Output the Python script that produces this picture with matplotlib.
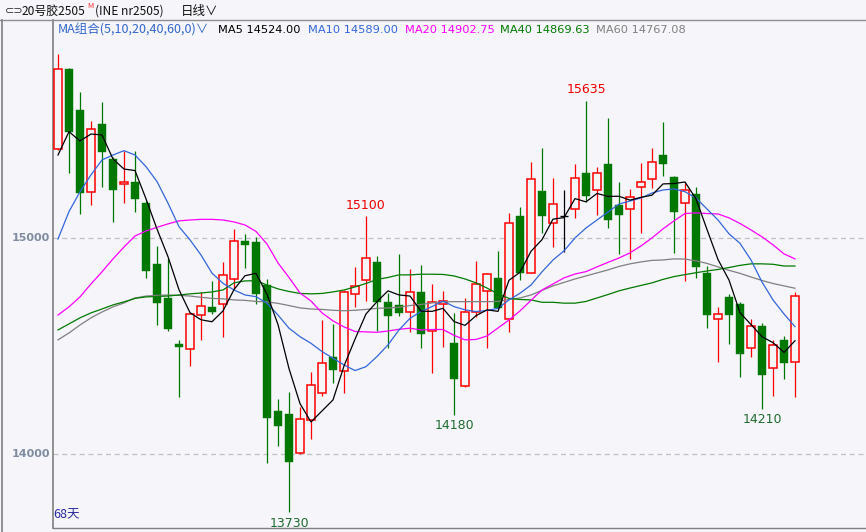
import matplotlib
matplotlib.use("Agg")
import matplotlib.pyplot as plt
import numpy as np

plt.rcParams['font.family'] = ['Noto Sans CJK SC', 'DejaVu Sans']

# daily candles, 68 bars
opens = [15411, 15782, 15593, 15212, 15528, 15366, 15249, 15259, 15161, 14880,
         14724, 14511, 14485, 14645, 14681, 14693, 14809, 14986, 14981, 14782,
         14199, 14185, 14003, 14157, 14281, 14449, 14384, 14739, 14804, 14889,
         14704, 14690, 14659, 14750, 14568, 14693, 14514, 14313, 14659, 14755,
         14815, 14624, 15102, 14839, 15218, 15068, 15102, 15133, 15301, 15221,
         15343, 15153, 15133, 15235, 15272, 15383, 15282, 15161, 15204, 14837,
         14624, 14727, 14694, 14489, 14593, 14400, 14528, 14425]
highs = [15852, 15785, 15675, 15540, 15630, 15375, 15403, 15403, 15171, 14963,
         14906, 14528, 14653, 14749, 14801, 14889, 15040, 15017, 15005, 14810,
         14255, 14286, 14216, 14380, 14620, 14602, 14759, 14864, 15100, 14917,
         14744, 14926, 14856, 14875, 14787, 14752, 14651, 14721, 14894, 14839,
         14940, 15114, 15142, 15353, 15415, 15276, 15222, 15342, 15635, 15327,
         15554, 15261, 15227, 15346, 15415, 15537, 15288, 15253, 15238, 14870,
         14681, 14742, 14704, 14624, 14605, 14528, 14546, 14750]
lows = [15405, 15301, 15110, 15153, 15238, 15074, 15161, 15118, 14813, 14597,
        14571, 14265, 14409, 14528, 14648, 14543, 14762, 14862, 14693, 13957,
        14037, 13730, 14000, 14071, 14270, 14330, 14284, 14679, 14710, 14571,
        14489, 14639, 14566, 14492, 14374, 14497, 14180, 14310, 14636, 14489,
        14670, 14563, 14803, 14837, 15022, 14957, 14937, 15091, 15165, 15106,
        15045, 14926, 14901, 15022, 15233, 15289, 14929, 14802, 14813, 14582,
        14427, 14508, 14358, 14450, 14210, 14268, 14346, 14265]
closes = [15781, 15492, 15210, 15503, 15400, 15222, 15258, 15178, 14849, 14700,
          14580, 14494, 14647, 14684, 14657, 14827, 14988, 14968, 14742, 14168,
          14131, 13964, 14160, 14318, 14420, 14390, 14749, 14776, 14906, 14705,
          14640, 14654, 14749, 14557, 14702, 14708, 14349, 14657, 14786, 14833,
          14677, 15068, 14839, 15271, 15103, 15156, 15102, 15276, 15196, 15301,
          15085, 15106, 15188, 15258, 15352, 15344, 15119, 15222, 14867, 14645,
          14648, 14645, 14464, 14593, 14367, 14505, 14423, 14731]

ma5 = [15384, 15492, 15449, 15481, 15477, 15365, 15319, 15312, 15181, 15041,
       14913, 14760, 14654, 14621, 14612, 14662, 14761, 14825, 14836, 14739,
       14599, 14395, 14233, 14148, 14199, 14250, 14407, 14531, 14648, 14705,
       14755, 14736, 14731, 14661, 14660, 14674, 14613, 14595, 14640, 14667,
       14660, 14804, 14841, 14938, 14992, 15087, 15094, 15182, 15167, 15206,
       15192, 15193, 15175, 15188, 15198, 15250, 15252, 15259, 15181, 15039,
       14900, 14805, 14654, 14599, 14543, 14515, 14470, 14524]
ma10 = [14995, 15122, 15214, 15292, 15361, 15384, 15404, 15384, 15330, 15261,
        15161, 15052, 14991, 14921, 14837, 14790, 14759, 14736, 14728, 14698,
        14643, 14582, 14543, 14512, 14474, 14443, 14412, 14386, 14404, 14451,
        14505, 14574, 14628, 14659, 14682, 14708, 14682, 14667, 14659, 14664,
        14674, 14713, 14744, 14782, 14843, 14898, 14940, 15000, 15046, 15083,
        15120, 15157, 15171, 15185, 15208, 15222, 15227, 15214, 15185, 15134,
        15083, 15019, 14975, 14898, 14796, 14713, 14648, 14589]
ma20 = [14643, 14681, 14727, 14787, 14843, 14903, 14958, 15009, 15032, 15049,
        15065, 15079, 15083, 15086, 15086, 15083, 15074, 15060, 15030, 14972,
        14884, 14817, 14745, 14708, 14653, 14616, 14588, 14567, 14565, 14563,
        14569, 14577, 14582, 14574, 14576, 14576, 14549, 14528, 14530, 14546,
        14583, 14620, 14662, 14711, 14759, 14787, 14815, 14833, 14844, 14866,
        14887, 14907, 14931, 14963, 15000, 15042, 15079, 15113, 15116, 15113,
        15111, 15093, 15067, 15037, 15005, 14968, 14926, 14903]
ma40 = [14574, 14602, 14630, 14653, 14671, 14690, 14704, 14720, 14727, 14729,
        14731, 14736, 14741, 14745, 14750, 14759, 14792, 14801, 14802, 14782,
        14764, 14752, 14743, 14741, 14743, 14750, 14759, 14773, 14789, 14808,
        14817, 14829, 14829, 14832, 14832, 14831, 14824, 14810, 14792, 14768,
        14741, 14720, 14715, 14713, 14702, 14702, 14698, 14698, 14706, 14722,
        14738, 14755, 14768, 14780, 14792, 14808, 14821, 14830, 14839, 14847,
        14854, 14863, 14873, 14880, 14880, 14878, 14870, 14870]
ma60 = [14528, 14560, 14597, 14630, 14657, 14681, 14699, 14722, 14731, 14734,
        14736, 14734, 14731, 14725, 14720, 14718, 14713, 14711, 14706, 14704,
        14697, 14687, 14676, 14671, 14669, 14665, 14663, 14665, 14669, 14674,
        14676, 14679, 14687, 14692, 14699, 14704, 14705, 14705, 14705, 14705,
        14706, 14715, 14722, 14736, 14757, 14778, 14794, 14810, 14824, 14838,
        14852, 14868, 14880, 14889, 14896, 14898, 14903, 14902, 14894, 14882,
        14866, 14850, 14836, 14819, 14803, 14789, 14778, 14767]

yticks = [14000, 15000]
legend_items = [("MA5 14524.00", "black"), ("MA10 14589.00", "#3366dd"),
                ("MA20 14902.75", "#ff00ff"), ("MA40 14869.63", "#007a00"),
                ("MA60 14767.08", "#808080")]
hi_marks = [(48, 15635), (28, 15100)]
lo_marks = [(21, 13730), (36, 14180), (64, 14210)]

bg = "#f5f5fa"
up_c = "#ff0000"
dn_c = "#007800"

W, H = 866, 532
fig = plt.figure(figsize=(W / 100, H / 100), dpi=100, facecolor=bg)
ax = fig.add_axes([53 / W, 4 / H, (W - 53) / W, (528 - 20) / H])
ax.set_facecolor(bg)

x = np.arange(len(closes))
o = np.array(opens); c = np.array(closes)
h = np.array(highs); l = np.array(lows)

for i in x:
    if c[i] > o[i]:
        col = up_c
    elif c[i] < o[i]:
        col = dn_c
    else:
        col = "black"
    ax.vlines(i, l[i], h[i], color=col, lw=0.9, zorder=2)
    bot = min(o[i], c[i])
    hgt = max(abs(c[i] - o[i]), 1)
    if c[i] > o[i]:
        ax.bar(i, hgt, bottom=bot, width=0.72, facecolor=bg, edgecolor=up_c,
               lw=1.1, zorder=3)
    elif c[i] < o[i]:
        ax.bar(i, hgt, bottom=bot, width=0.78, facecolor=dn_c, edgecolor=dn_c,
               lw=0.3, zorder=3)
    else:
        ax.hlines(o[i], i - 0.39, i + 0.39, color=col, lw=1.0, zorder=3)

ax.plot(x, ma60, color="#808080", lw=0.9, zorder=4)
ax.plot(x, ma40, color="#007a00", lw=0.9, zorder=4)
ax.plot(x, ma20, color="#ff00ff", lw=0.9, zorder=4)
ax.plot(x, ma10, color="#3366dd", lw=0.9, zorder=4)
ax.plot(x, ma5, color="black", lw=0.9, zorder=5)

for yv in yticks:
    ax.axhline(yv, color="#c0c0c0", lw=0.9, ls=(0, (4, 3)), zorder=1)

for i, v in hi_marks:
    ax.text(i, v + 20, str(v), color="#ee0000", fontsize=9, ha="center",
            va="bottom", family=["DejaVu Sans"])
for i, v in lo_marks:
    ax.text(i, v - 20, str(v), color="#1f6b2f", fontsize=9, ha="center",
            va="top", family=["DejaVu Sans"])

ax.set_xlim(-5 / 11, -5 / 11 + (W - 53) / 11)
ax.set_ylim(13657, 16009)
ax.set_xticks([])
ax.set_yticks([])
for s in ["top", "right", "bottom"]:
    ax.spines[s].set_visible(False)
ax.spines["left"].set_color("#808080")
ax.spines["left"].set_linewidth(1.2)

# y tick labels in left gutter
for yv in yticks:
    ax.text(-0.75, yv, str(yv), color="#7f8ca0", fontsize=8, ha="right",
            va="center", fontweight="bold", family=["DejaVu Sans"],
            transform=ax.transData, clip_on=False)

ax.text(0.0, 13690, "68天", color="#2a2aa0", fontsize=9, ha="left",
        va="bottom", transform=ax.get_yaxis_transform(), clip_on=False)

# header and frame lines
fig.add_artist(plt.Line2D([0, 1], [1 - 20 / H, 1 - 20 / H], color="#909090", lw=1.0))
fig.add_artist(plt.Line2D([1.5 / W, 1.5 / W], [0, 1 - 20 / H], color="#808080", lw=1.2))
fig.add_artist(plt.Line2D([53 / W, 1], [4 / H, 4 / H], color="#808080", lw=1.0))

fy = 1 - 11 / H
fig.text(5 / W, fy, "⊂⊃", fontsize=8, color="#333333", va="center", ha="left",
         family=["DejaVu Sans"])
fig.text(22 / W, fy, "20号胶2505", fontsize=8.6, color="#111111", va="center", ha="left")
fig.text(87 / W, 1 - 6 / H, "M", fontsize=5.5, color="#ff3030", va="center", ha="left")
fig.text(95 / W, fy, "(INE nr2505)", fontsize=8.6, color="#111111", va="center", ha="left")
fig.text(181 / W, fy, "日线∨", fontsize=9, color="#111111", va="center", ha="left")

ly = 1 - 30 / H
fig.text(58 / W, ly, "MA组合(5,10,20,40,60,0)∨", fontsize=9, color="#3366cc",
         va="center", ha="left")
lx = [218, 308, 405, 500, 596]
for (txt, col), px in zip(legend_items, lx):
    fig.text(px / W, ly, txt, fontsize=8.2, color=col, va="center", ha="left",
             family=["DejaVu Sans"])

fig.savefig("out.png", dpi=100, facecolor=bg)
